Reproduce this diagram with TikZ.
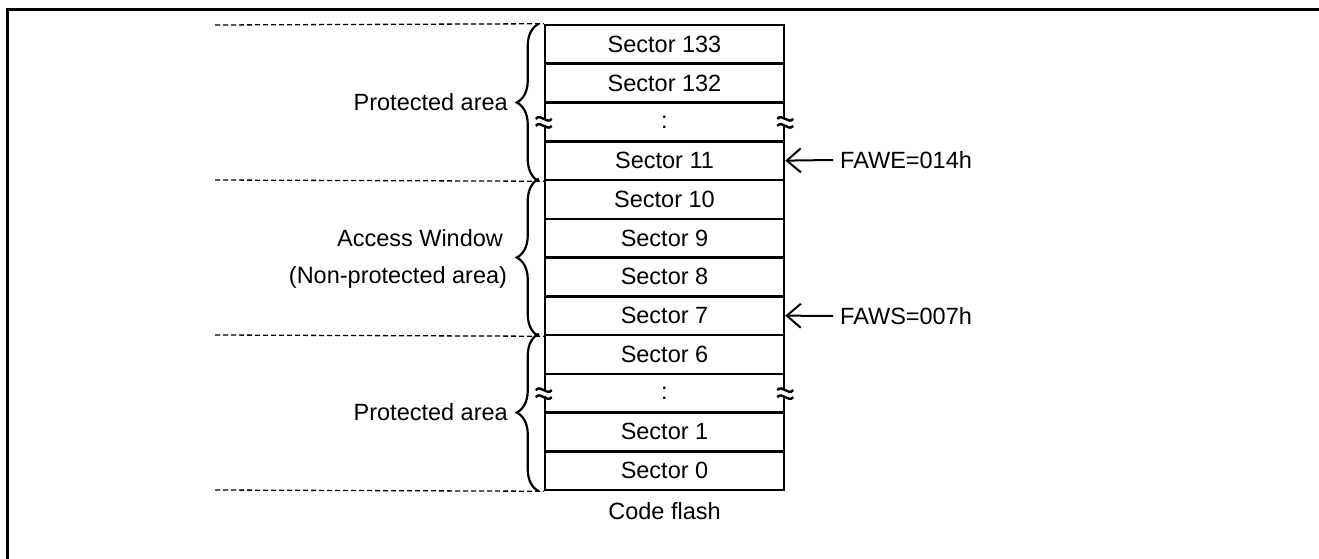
\documentclass[tikz,border=0pt]{standalone}
\usepackage{fontspec}
\setmainfont{Liberation Sans}
\usetikzlibrary{decorations.pathreplacing,arrows.meta,positioning}

\begin{document}
\begin{tikzpicture}[x=1pt, y=-1pt,
	txt/.style={inner sep=0pt, font=\fontsize{23.5}{28}\selectfont},
	sector/.style={txt, draw, line width=2.5pt, minimum width=239pt, minimum height=38.75pt},
	sep/.style={line width=1.3pt, dash pattern=on 5pt off 3pt},
	brc/.style={line width=2.2pt, decorate, decoration={brace, amplitude=22pt}},
	ptr/.style={line width=2pt, -{Straight Barb[length=14pt, width=24pt, line width=2pt]}}]
	\useasboundingbox (0, 0) rectangle (1319, 559);
	\draw[line width=3pt] (7, 559) -- (7, 10) -- (1319, 10);
	%%
	\foreach \lbl [count=\i from 0] in {Sector 133,Sector 132,:,Sector 11,Sector 10,Sector 9,Sector 8,Sector 7,Sector 6,:,Sector 1,Sector 0}
		\node[sector] (r\i) at (664.5, {25 + 38.75*(\i + 0.5)}) {\lbl};
	\node[txt, below=11pt of r11] (flash) {Code flash};
	%%
	\draw[sep] (215, 25) -- (r0.north west);
	\draw[sep] (215, 180) -- (r3.south west);
	\draw[sep] (215, 335) -- (r7.south west);
	\draw[sep] (215, 490) -- (r11.south west);
	%%
	\draw[brc] ([xshift=-5pt]r3.south west) -- ([xshift=-5pt]r0.north west);
	\draw[brc] ([xshift=-5pt]r7.south west) -- ([xshift=-5pt]r4.north west);
	\draw[brc] ([xshift=-5pt]r11.south west) -- ([xshift=-5pt]r8.north west);
	\node[txt, anchor=east] (pa1) at (508, 102) {Protected area};
	\node[txt] (aw) at (420, 238) {Access Window};
	\node[txt] (npa) at (398, 277) {(Non-protected area)};
	\node[txt, anchor=east] (pa2) at (508, 412) {Protected area};
	%%
	\foreach \p in {r2.west, r2.east, r9.west, r9.east} {
		\fill[white] ([shift={(-3, -3)}]\p) rectangle ([shift={(3, 3)}]\p);
		\draw[line width=2.4pt] ([shift={(-8, -3)}]\p) .. controls +(5, -6) and +(-5, 6) .. ([shift={(8, -3)}]\p);
		\draw[line width=2.4pt] ([shift={(-8, 4)}]\p) .. controls +(5, -6) and +(-5, 6) .. ([shift={(8, 4)}]\p);
	}
	%%
	\node[txt, anchor=west] (fawe) at (840, 160) {FAWE=014h};
	\node[txt, anchor=west] (faws) at (840, 316) {FAWS=007h};
	\draw[ptr] ([xshift=-7pt]fawe.west) -- (r3.east);
	\draw[ptr] ([xshift=-7pt]faws.west) -- (r7.east);
\end{tikzpicture}
\end{document}
